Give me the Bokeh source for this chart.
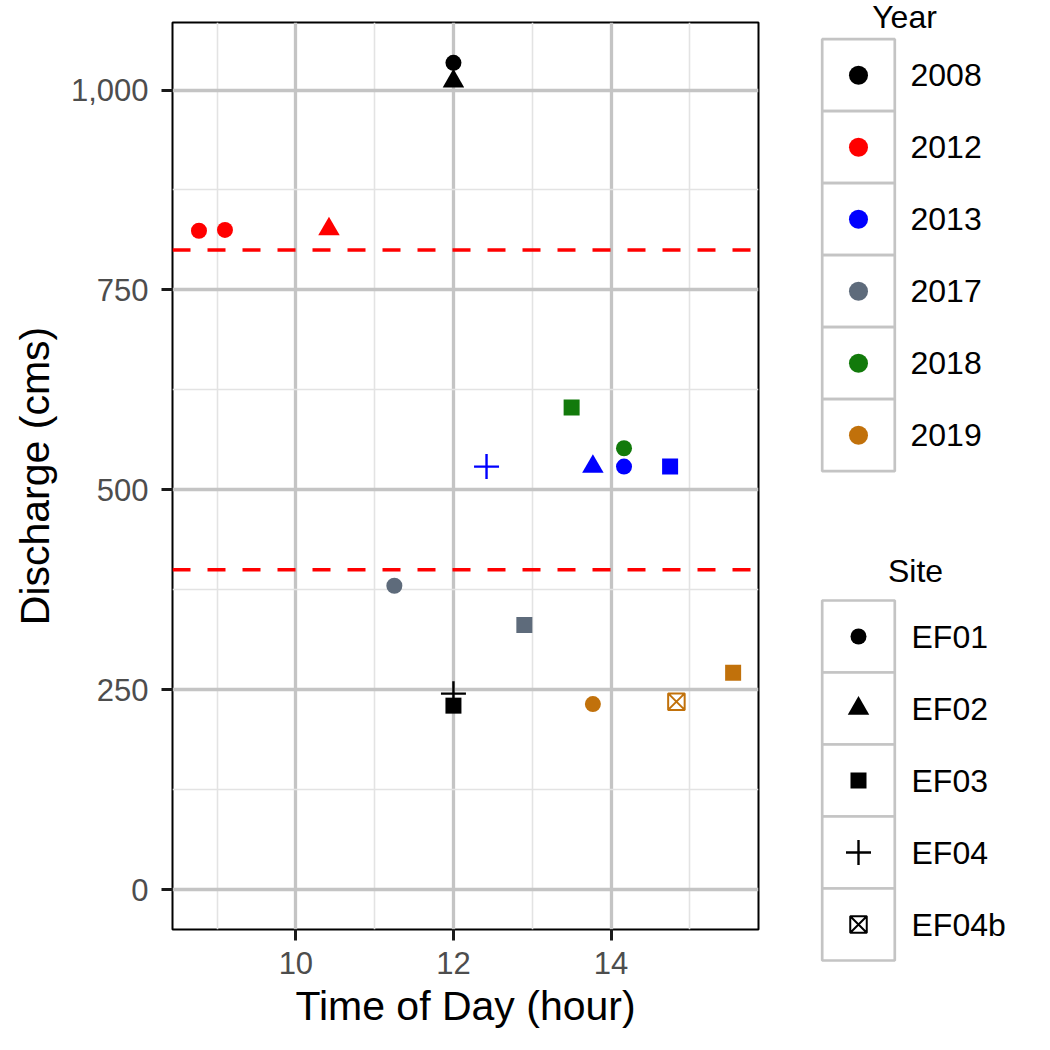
from bokeh.plotting import figure
from bokeh.layouts import row
from bokeh.models import Range1d, FixedTicker, NumeralTickFormatter, Span
from bokeh.embed import file_html
from bokeh.resources import INLINE
from bokeh.core.properties import value

# ---------------- data ----------------
years = ["2008", "2012", "2013", "2017", "2018", "2019"]
year_colors = ["#000000", "#FF0000", "#0000FF", "#5E6B7B", "#127A0B", "#C1710B"]
sites = ["EF01", "EF02", "EF03", "EF04", "EF04b"]

obs_year = ["2008", "2008", "2008", "2008",
            "2012", "2012", "2012",
            "2013", "2013", "2013", "2013",
            "2017", "2017",
            "2018", "2018",
            "2019", "2019", "2019"]
obs_site = ["EF01", "EF02", "EF03", "EF04",
            "EF01", "EF01", "EF02",
            "EF04", "EF02", "EF01", "EF03",
            "EF01", "EF03",
            "EF03", "EF01",
            "EF01", "EF04b", "EF03"]
obs_hour = [12.0, 12.0, 12.0, 12.0,
            8.77, 9.10, 10.42,
            12.42, 13.77, 14.165, 14.75,
            11.25, 12.90,
            13.50, 14.165,
            13.77, 14.83, 15.55]
obs_discharge = [1034, 1011, 230, 245,
                 824, 825, 826,
                 529, 529, 529, 529,
                 380, 331,
                 603, 552,
                 232, 235, 271]

thresholds = [400, 800]
x_ticks = [10, 12, 14]
x_minor = [9, 11, 13, 15]
y_ticks = [0, 250, 500, 750, 1000]
y_minor = [125, 375, 625, 875]

FONT = "Liberation Sans"

# marker styles per site (style only)
site_style = {
    "EF01": dict(marker="circle", size=16, filled=True, lw=0),
    "EF02": dict(marker="triangle", size=21.5, filled=True, lw=0),
    "EF03": dict(marker="square", size=16, filled=True, lw=0),
    "EF04": dict(marker="cross", size=25, filled=False, lw=2.4),
    "EF04b": dict(marker="square_x", size=16.5, filled=False, lw=2.0),
}
color_of = dict(zip(years, year_colors))

H = 1042

# ---------------- main plot ----------------
p = figure(width=788, height=H,
           x_range=Range1d(8.434, 15.872), y_range=Range1d(-50, 1084.5),
           output_backend="svg", toolbar_location=None,
           min_border_left=172, min_border_right=30,
           min_border_top=22, min_border_bottom=H - 929,
           x_axis_label="Time of Day (hour)", y_axis_label="Discharge (cms)")
p.frame_align = False
p.background_fill_color = "white"
p.border_fill_color = "white"
p.outline_line_color = "black"
p.outline_line_width = 2

p.xaxis.ticker = FixedTicker(ticks=x_ticks, minor_ticks=x_minor)
p.yaxis.ticker = FixedTicker(ticks=y_ticks, minor_ticks=y_minor)
p.yaxis.formatter = NumeralTickFormatter(format="0,0")

p.grid.grid_line_color = "#C4C4C4"
p.grid.grid_line_width = 3.3
p.grid.minor_grid_line_color = "#E3E3E3"
p.grid.minor_grid_line_width = 1.6

p.axis.axis_line_color = None
p.axis.minor_tick_line_color = None
p.axis.major_tick_line_color = "#1A1A1A"
p.axis.major_tick_line_width = 3
p.axis.major_tick_out = 11
p.axis.major_tick_in = 0
p.axis.major_label_text_font = FONT
p.axis.major_label_text_font_size = "31px"
p.axis.major_label_text_color = "#4D4D4D"
p.xaxis.major_label_standoff = 11
p.yaxis.major_label_standoff = 13
p.axis.axis_label_text_font = FONT
p.axis.axis_label_text_font_size = "41px"
p.axis.axis_label_text_font_style = "normal"
p.axis.axis_label_text_color = "black"
p.xaxis.axis_label_standoff = 6
p.yaxis.axis_label_standoff = 10

for t in thresholds:
    p.add_layout(Span(location=t, dimension="width", line_color="#FF0000",
                      line_width=3.4, line_dash="18 17"))

for i in range(len(obs_hour)):
    st = site_style[obs_site[i]]
    col = color_of[obs_year[i]]
    if st["filled"]:
        p.scatter([obs_hour[i]], [obs_discharge[i]], marker=st["marker"], size=st["size"],
                  fill_color=col, line_color=None)
    else:
        p.scatter([obs_hour[i]], [obs_discharge[i]], marker=st["marker"], size=st["size"],
                  fill_color=None, line_color=col, line_width=st["lw"])

# ---------------- legends (separate panel, page pixel coordinates) ----------------
lg = figure(width=254, height=H, x_range=Range1d(788, 1042), y_range=Range1d(H, 0),
            output_backend="svg", toolbar_location=None, min_border=0,
            min_border_left=0, min_border_right=0, min_border_top=0, min_border_bottom=0,
            x_axis_type=None, y_axis_type=None)
lg.frame_align = False
lg.outline_line_color = None
lg.background_fill_color = "white"
lg.border_fill_color = "white"
lg.grid.visible = False

KEY_X, KEY_W, KEY_H = 858, 72.6, 72
LABEL_X = 910
KEY_BORDER = "#C4C4C4"

# Year legend
year_key_y = [38.7 + KEY_H * (i + 0.5) for i in range(len(years))]
lg.text(x=[904], y=[16], text=["Year"], text_font=value(FONT), text_font_size="32px",
        text_align="center", text_baseline="alphabetic", text_color="black")
lg.rect(x=[KEY_X] * len(years), y=year_key_y, width=KEY_W, height=KEY_H,
        fill_color="white", line_color=KEY_BORDER, line_width=2.7)
lg.scatter(x=[KEY_X] * len(years), y=year_key_y, marker="circle", size=19,
           fill_color=year_colors, line_color=None)
lg.text(x=[LABEL_X] * len(years), y=year_key_y, text=years, text_font=value(FONT),
        text_font_size="32px", text_baseline="middle", text_color="black")

# Site legend
site_key_y = [600 + KEY_H * (i + 0.5) for i in range(len(sites))]
lg.text(x=[915], y=[570], text=["Site"], text_font=value(FONT), text_font_size="32px",
        text_align="center", text_baseline="alphabetic", text_color="black")
lg.rect(x=[KEY_X] * len(sites), y=site_key_y, width=KEY_W, height=KEY_H,
        fill_color="white", line_color=KEY_BORDER, line_width=2.7)
for s, yk in zip(sites, site_key_y):
    st = site_style[s]
    if st["filled"]:
        lg.scatter([KEY_X], [yk], marker=st["marker"], size=st["size"],
                   fill_color="black", line_color=None)
    else:
        lg.scatter([KEY_X], [yk], marker=st["marker"], size=st["size"],
                   fill_color=None, line_color="black", line_width=st["lw"])
lg.text(x=[LABEL_X + 1] * len(sites), y=site_key_y, text=sites, text_font=value(FONT),
        text_font_size="32px", text_baseline="middle", text_color="black")

layout = row(p, lg)
open("out.html", "w").write(file_html(layout, INLINE))
